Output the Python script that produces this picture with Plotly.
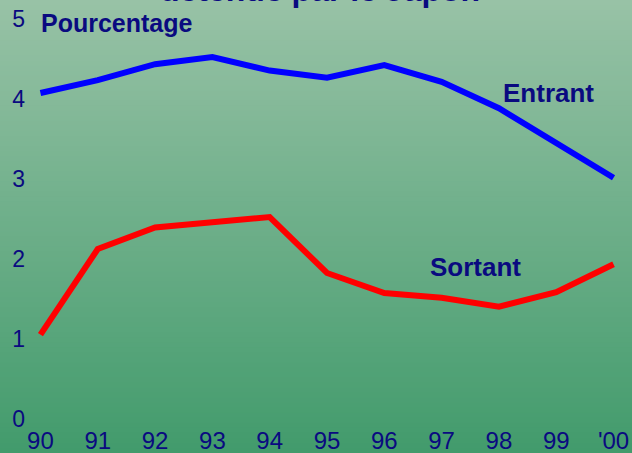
import plotly.graph_objects as go

years = list(range(90, 101))
tick_labels = ["90", "91", "92", "93", "94", "95", "96", "97", "98", "99", "'00"]
entrant = [4.05, 4.21, 4.41, 4.50, 4.33, 4.24, 4.40, 4.19, 3.86, 3.43, 2.99]
sortant = [1.03, 2.10, 2.37, 2.43, 2.50, 1.80, 1.55, 1.49, 1.38, 1.56, 1.91]
y_ticks = [0, 1, 2, 3, 4, 5]

W, H = 632, 453
L, R, T, B = 28.5, 6.5, 17, 36
NAVY = "#0a0a80"
FONT = "Liberation Sans, Arial, sans-serif"

fig = go.Figure()
fig.add_trace(go.Scatter(x=years, y=entrant, mode="lines", name="Entrant",
                         line=dict(color="#0000ff", width=6), hoverinfo="skip"))
fig.add_trace(go.Scatter(x=years, y=sortant, mode="lines", name="Sortant",
                         line=dict(color="#ff0000", width=6), hoverinfo="skip"))

# vertical gradient background
top = (152, 194, 166)
bot = (66, 155, 108)
n = 90
pw = W - L - R
ph = H - T - B
y_lo = -B / ph
y_hi = 1 + T / ph
shapes = []
for i in range(n):
    f = i / (n - 1)
    c = tuple(round(bot[k] + (top[k] - bot[k]) * f) for k in range(3))
    y0 = y_lo + (y_hi - y_lo) * i / n
    y1 = y_lo + (y_hi - y_lo) * (i + 1.5) / n
    shapes.append(dict(type="rect", xref="paper", yref="paper",
                       x0=-0.1, x1=1.1, y0=y0, y1=y1, layer="below",
                       line=dict(width=0), fillcolor="rgb(%d,%d,%d)" % c))

annotations = [
    dict(text="<b>détenue par le Japon</b>", xref="paper", yref="paper",
         x=(320 - L) / pw, y=1 + 7 / ph, xanchor="center", yanchor="bottom",
         showarrow=False, font=dict(size=32, color=NAVY, family=FONT)),
    dict(text="<b>Pourcentage</b>", x=89.98, y=4.93, xanchor="left", yanchor="middle",
         showarrow=False, font=dict(size=25, color=NAVY, family=FONT)),
    dict(text="<b>Entrant</b>", x=98.03, y=4.05, xanchor="left", yanchor="middle",
         showarrow=False, font=dict(size=26, color=NAVY, family=FONT)),
    dict(text="<b>Sortant</b>", x=96.76, y=1.87, xanchor="left", yanchor="middle",
         showarrow=False, font=dict(size=26, color=NAVY, family=FONT)),
]

fig.update_layout(
    width=W, height=H,
    margin=dict(l=L, r=R, t=T, b=B, pad=0),
    paper_bgcolor="rgb(66,155,108)",
    plot_bgcolor="rgba(0,0,0,0)",
    showlegend=False,
    shapes=shapes,
    annotations=annotations,
    font=dict(family=FONT, color=NAVY, size=23),
    xaxis=dict(range=[89.8, 100.2], tickvals=years, ticktext=tick_labels,
               showgrid=False, zeroline=False, showline=False, ticks="",
               tickfont=dict(size=24, color=NAVY, family=FONT),
               ticklabelstandoff=7, automargin=False, fixedrange=True),
    yaxis=dict(range=[0, 5], tickvals=y_ticks, showgrid=False, zeroline=False,
               showline=False, ticks="", tickfont=dict(size=23, color=NAVY, family=FONT),
               ticklabelstandoff=3, ticklabelshift=2, automargin=False,
               fixedrange=True),
)

fig.write_html("out.html", config={"displayModeBar": False},
               post_script="document.body.style.margin='0';document.body.style.overflow='hidden';")
